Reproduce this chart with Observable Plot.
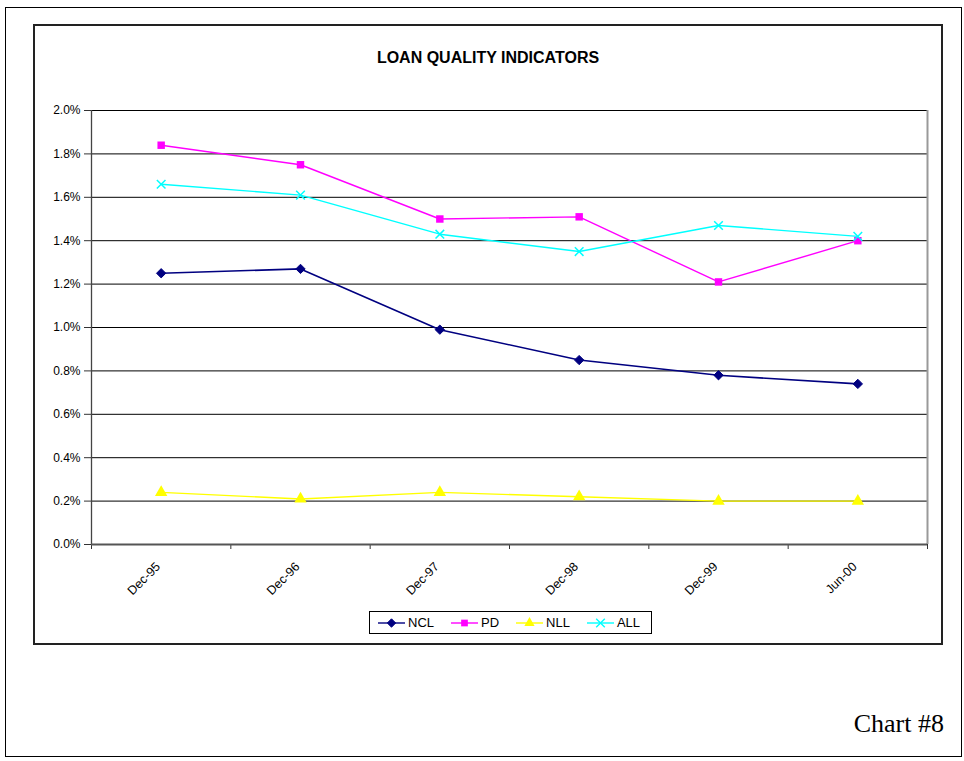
<!DOCTYPE html>
<html>
<head>
<meta charset="utf-8">
<script src="https://cdn.jsdelivr.net/npm/d3@7"></script>
<script src="https://cdn.jsdelivr.net/npm/@observablehq/plot@0.6"></script>
<style>
  html, body { margin: 0; padding: 0; background: #fff; }
  #page { position: relative; width: 964px; height: 761px; overflow: hidden; background: #fff; }
  .outer { position: absolute; left: 5px; top: 7px; width: 957px; height: 750px; border: 1px solid #000; box-sizing: border-box; }
  .inner { position: absolute; left: 33px; top: 24px; width: 910px; height: 621px; border: 2px solid #222; box-sizing: border-box; }
  #chart { position: absolute; left: 0; top: 0; }
  .title { position: absolute; left: 33px; top: 50px; width: 910px; text-align: center;
           font: bold 16px/1 "Liberation Sans", Arial, sans-serif; color: #000; }
  .legend { position: absolute; left: 369px; top: 611px; width: 283px; height: 23px; border: 1px solid #000;
            box-sizing: border-box; display: flex; align-items: center; padding-left: 8px; gap: 17px;
            font: 13px/1 "Liberation Sans", Arial, sans-serif; color: #000; background: #fff; }
  .legend .item { display: flex; align-items: center; gap: 3px; }
  .caption { position: absolute; right: 20px; top: 711px; font: 26px/1 "Liberation Serif", "Times New Roman", serif; color: #000; }
</style>
</head>
<body>
<div id="page">
  <div class="outer"></div>
  <div class="inner"></div>
  <div id="chart"></div>
  <div class="title">LOAN QUALITY INDICATORS</div>
  <div class="legend" id="legend"></div>
  <div class="caption">Chart #8</div>
</div>
<script>
// Period labels along the x axis
const categories = ["Dec-95", "Dec-96", "Dec-97", "Dec-98", "Dec-99", "Jun-00"];

// Loan quality ratios, in percent
const ncl = [1.25, 1.27, 0.99, 0.85, 0.78, 0.74];
const pd  = [1.84, 1.75, 1.50, 1.51, 1.21, 1.40];
const nll = [0.24, 0.21, 0.24, 0.22, 0.20, 0.20];
const all = [1.66, 1.61, 1.43, 1.35, 1.47, 1.42];

const seriesNames   = ["NCL", "PD", "NLL", "ALL"];
const seriesValues  = [ncl, pd, nll, all];
const seriesColors  = ["#000080", "#FF00FF", "#FFFF00", "#00FFFF"];
const seriesSymbols = ["diamond2", "square", "triangle", "times"];

// Value axis ticks, in percent
const yTicks = [0.0, 0.2, 0.4, 0.6, 0.8, 1.0, 1.2, 1.4, 1.6, 1.8, 2.0];

// Long table built from the arrays above
const rows = seriesNames.flatMap((name, s) =>
  categories.map((c, i) => ({series: name, i, value: seriesValues[s][i]}))
);

const centers = categories.map((_, i) => i);
const boundaries = categories.map((_, i) => i - 0.5).concat([categories.length - 0.5]);

const markerSize = {diamond2: 4.2, square: 4.2, triangle: 4.6, times: 4};

const seriesMarks = seriesNames.flatMap((name, s) => {
  const data = rows.filter(d => d.series === name);
  const color = seriesColors[s];
  const sym = seriesSymbols[s];
  const hollow = sym === "times";
  return [
    Plot.line(data, {x: "i", y: "value", stroke: color, strokeWidth: s === 0 ? 1.6 : 1.4}),
    Plot.dot(data, {
      x: "i", y: "value", symbol: () => sym,
      r: markerSize[sym],
      fill: hollow ? "none" : color,
      stroke: hollow || sym === "diamond2" ? color : "none",
      strokeWidth: hollow ? 1.5 : 1
    })
  ];
});

const chart = Plot.plot({
  width: 964,
  height: 761,
  marginLeft: 91,
  marginRight: 37,
  marginTop: 110,
  marginBottom: 217,
  x: {type: "linear", domain: [-0.5, categories.length - 0.5], axis: null},
  y: {domain: [0, 2.0], axis: null},
  symbol: {type: "identity"},
  style: {
    background: "transparent",
    fontFamily: "'Liberation Sans', Arial, sans-serif",
    fontSize: "12px",
    color: "#000",
    overflow: "visible"
  },
  marks: [
    Plot.ruleY(yTicks.filter(d => d > 0), {stroke: "#000", strokeWidth: 1}),
    Plot.ruleX([categories.length - 0.5], {stroke: "#999", strokeWidth: 2}),
    Plot.ruleX([-0.5], {stroke: "#444", strokeWidth: 1.3}),
    Plot.axisY({ticks: yTicks, tickFormat: d => d.toFixed(1) + "%", tickSize: 7, tickPadding: 4,
                stroke: "#333", label: null, fontSize: 12}),
    Plot.axisX({ticks: boundaries, tickSize: 5, tickFormat: () => "", stroke: "#333", label: null}),
    Plot.axisX({ticks: centers, tickSize: 0, tickPadding: 20, dx: -3, tickRotate: -45,
                tickFormat: i => categories[i], label: null, fontSize: 12.5}),
    Plot.ruleY([0], {stroke: "#555", strokeWidth: 2}),
    ...seriesMarks
  ]
});
document.getElementById("chart").appendChild(chart);

// Legend: one swatch (line + marker) per series
const legend = d3.select("#legend");
const legendSymbol = {diamond2: d3.symbolDiamond2, square: d3.symbolSquare, triangle: d3.symbolTriangle, times: d3.symbolTimes};
seriesNames.forEach((name, s) => {
  const item = legend.append("div").attr("class", "item");
  const svg = item.append("svg").attr("width", 27).attr("height", 12);
  svg.append("line").attr("x1", 0).attr("x2", 27).attr("y1", 6).attr("y2", 6)
     .attr("stroke", seriesColors[s]).attr("stroke-width", 1.4);
  const sym = seriesSymbols[s];
  const hollow = sym === "times";
  svg.append("path").attr("transform", "translate(13.5,6)")
     .attr("d", d3.symbol(legendSymbol[sym], hollow ? 50 : 45)())
     .attr("fill", hollow ? "none" : seriesColors[s])
     .attr("stroke", hollow || sym === "diamond2" ? seriesColors[s] : "none")
     .attr("stroke-width", hollow ? 1.4 : 1);
  item.append("span").text(name);
});
</script>
</body>
</html>
